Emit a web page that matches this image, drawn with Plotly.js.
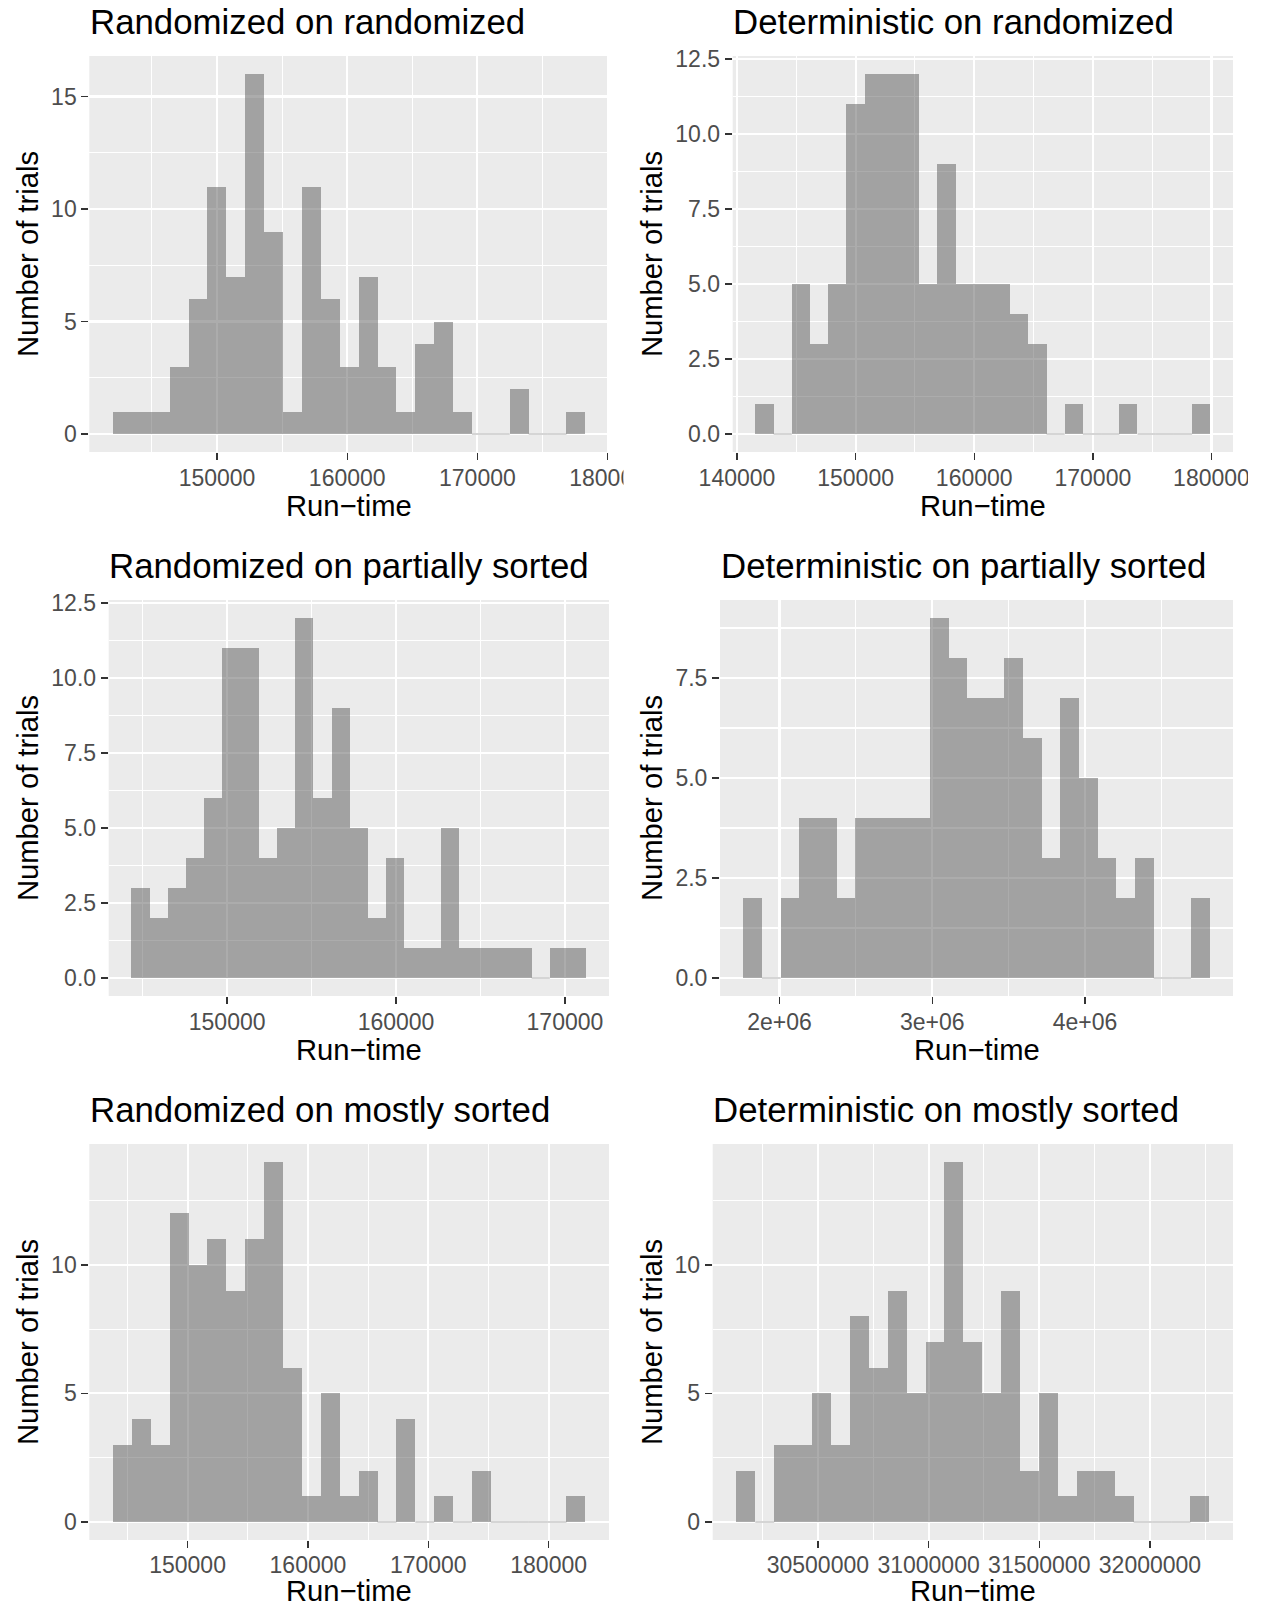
<!DOCTYPE html>
<html>
<head>
<meta charset="utf-8">
<script src="https://cdn.plot.ly/plotly-3.0.1.min.js"></script>
<style>
html, body { margin: 0; padding: 0; background: #ffffff; }
#chart { width: 1262px; height: 1608px; }
</style>
</head>
<body>
<div id="chart"></div>
<script>
// ---------------- DATA ----------------
const panelTitles = [
  "Randomized on randomized",
  "Deterministic on randomized",
  "Randomized on partially sorted",
  "Deterministic on partially sorted",
  "Randomized on mostly sorted",
  "Deterministic on mostly sorted"
];
const xAxisTitle = "Run\u2212time";
const yAxisTitle = "Number of trials";

// histogram bins: left edge of first bin, bin width, counts per bin (25 bins)
const randRandStart = 142005, randRandWidth = 1451.5;
const randRandCounts = [1,1,1,3,6,11,7,16,9,1,11,6,3,7,3,1,4,5,1,0,0,2,0,0,1];

const detRandStart = 141558, detRandWidth = 1533.6;
const detRandCounts = [1,0,5,3,5,11,12,12,12,5,9,5,5,5,4,3,0,1,0,0,1,0,0,0,1];

const randPartStart = 144333, randPartWidth = 1077.2;
const randPartCounts = [3,2,3,4,6,11,11,4,5,12,6,9,5,2,4,1,1,5,1,1,1,1,0,1,1];

const detPartStart = 1763158, detPartWidth = 122105;
const detPartCounts = [2,0,2,4,4,2,4,4,4,4,9,8,7,7,8,6,3,7,5,3,2,3,0,0,2];

const randMostStart = 143798, randMostWidth = 1570.2;
const randMostCounts = [3,4,3,12,10,11,9,11,14,6,1,5,1,2,0,4,0,1,0,2,0,0,0,0,1];

const detMostStart = 30131790, detMostWidth = 85454;
const detMostCounts = [2,0,3,3,5,3,8,6,9,5,7,14,7,5,9,2,5,1,2,2,1,0,0,0,1];

// tick values / labels
const xTickVals = [
  [150000,160000,170000,180000],
  [140000,150000,160000,170000,180000],
  [150000,160000,170000],
  [2000000,3000000,4000000],
  [150000,160000,170000,180000],
  [30500000,31000000,31500000,32000000]
];
const xTickText = [
  ["150000","160000","170000","180000"],
  ["140000","150000","160000","170000","180000"],
  ["150000","160000","170000"],
  ["2e+06","3e+06","4e+06"],
  ["150000","160000","170000","180000"],
  ["30500000","31000000","31500000","32000000"]
];
const yTickVals = [
  [0,5,10,15],
  [0,2.5,5,7.5,10,12.5],
  [0,2.5,5,7.5,10,12.5],
  [0,2.5,5,7.5],
  [0,5,10],
  [0,5,10]
];
const yTickText = [
  ["0","5","10","15"],
  ["0.0","2.5","5.0","7.5","10.0","12.5"],
  ["0.0","2.5","5.0","7.5","10.0","12.5"],
  ["0.0","2.5","5.0","7.5"],
  ["0","5","10"],
  ["0","5","10"]
];

const binStarts = [randRandStart, detRandStart, randPartStart, detPartStart, randMostStart, detMostStart];
const binWidths = [randRandWidth, detRandWidth, randPartWidth, detPartWidth, randMostWidth, detMostWidth];
const binCounts = [randRandCounts, detRandCounts, randPartCounts, detPartCounts, randMostCounts, detMostCounts];

// ---------------- LAYOUT (pixels) ----------------
const W = 1262, H = 1608;
const boxes = [
  {l: 89.3,  r: 609,  t: 56,   b: 452},
  {l: 732.7, r: 1233, t: 56,   b: 452},
  {l: 108.7, r: 609,  t: 600,  b: 996},
  {l: 720,   r: 1233, t: 600,  b: 996},
  {l: 89.3,  r: 609,  t: 1144, b: 1540},
  {l: 712.7, r: 1233, t: 1144, b: 1540}
];
const FONT = '"Liberation Sans", Arial, Helvetica, sans-serif';
const TICK_SIZE = 23, AXTITLE_SIZE = 29.2, TITLE_SIZE = 34.8;
const BAR_FILL = 'rgba(89,89,89,0.5)';
const px = v => v / W;
const py = v => 1 - v / H;

function minorVals(range, majors) {
  const step = majors[1] - majors[0];
  const half = step / 2;
  const out = [];
  let v = majors[0] - Math.ceil((majors[0] - range[0]) / half) * half;
  for (; v <= range[1]; v += half) {
    if (v < range[0]) continue;
    const isMajor = majors.some(m => Math.abs(m - v) < half * 1e-6);
    if (!isMajor) out.push(v);
  }
  return out;
}

const traces = [];
const layout = {
  width: W, height: H,
  margin: {l: 0, r: 0, t: 0, b: 0, pad: 0},
  paper_bgcolor: '#ffffff',
  plot_bgcolor: '#EBEBEB',
  showlegend: false,
  bargap: 0,
  barmode: 'overlay',
  font: {family: FONT, color: '#000000'},
  annotations: [],
  shapes: []
};

for (let i = 0; i < 6; i++) {
  const n = i === 0 ? '' : String(i + 1);
  const start = binStarts[i], w = binWidths[i], counts = binCounts[i];
  const centers = counts.map((_, k) => start + w * (k + 0.5));
  const widths = counts.map(() => w);
  const nb = counts.length;
  const xr = [start - 0.05 * nb * w, start + nb * w + 0.05 * nb * w];
  const ymax = Math.max(...counts);
  const yr = [-0.05 * ymax, 1.05 * ymax];
  const box = boxes[i];
  const lastRow = i >= 4;

  traces.push({
    type: 'bar',
    x: centers, y: counts, width: widths,
    xaxis: 'x' + n, yaxis: 'y' + n,
    marker: {color: BAR_FILL, line: {width: 0}},
    hoverinfo: 'skip'
  });

  // empty bins are drawn by ggplot as zero-height rectangles (thin line at 0)
  const zx = [], zy = [];
  counts.forEach((c, k) => {
    if (c === 0) {
      zx.push(start + w * k, start + w * (k + 1), null);
      zy.push(0, 0, null);
    }
  });
  if (zx.length) {
    traces.push({
      type: 'scatter', mode: 'lines', x: zx, y: zy,
      xaxis: 'x' + n, yaxis: 'y' + n,
      line: {color: BAR_FILL, width: 1}, hoverinfo: 'skip', connectgaps: false
    });
  }

  const yMaj = yTickVals[i];
  const xMaj = xTickVals[i];
  layout['xaxis' + n] = {
    domain: [px(box.l), px(box.r)],
    anchor: 'y' + n,
    range: xr,
    tickmode: 'array', tickvals: xMaj, ticktext: xTickText[i],
    ticks: 'outside', ticklen: 7, tickwidth: 1.4, tickcolor: '#333333',
    ticklabelstandoff: lastRow ? -3 : -2,
    tickfont: {family: FONT, size: TICK_SIZE, color: '#4D4D4D'},
    showgrid: true, gridcolor: '#ffffff', gridwidth: 2.1,
    minor: {tickmode: 'array', tickvals: minorVals(xr, xMaj), showgrid: true, gridcolor: '#ffffff', gridwidth: 1.1, ticks: ''},
    zeroline: false, showline: false, fixedrange: true
  };
  layout['yaxis' + n] = {
    domain: [py(box.b), py(box.t)],
    anchor: 'x' + n,
    range: yr,
    tickmode: 'array', tickvals: yMaj, ticktext: yTickText[i],
    ticks: 'outside', ticklen: 7, tickwidth: 1.4, tickcolor: '#333333',
    tickfont: {family: FONT, size: TICK_SIZE, color: '#4D4D4D'},
    showgrid: true, gridcolor: '#ffffff', gridwidth: 2.1,
    minor: {tickmode: 'array', tickvals: minorVals(yr, yMaj), showgrid: true, gridcolor: '#ffffff', gridwidth: 1.1, ticks: ''},
    zeroline: false, showline: false, fixedrange: true
  };

  // panel title (left aligned to panel)
  layout.annotations.push({
    text: panelTitles[i], xref: 'paper', yref: 'paper',
    x: px(box.l - 1.5), y: py(box.t - 34.3),
    xanchor: 'left', yanchor: 'middle', showarrow: false,
    font: {family: FONT, size: TITLE_SIZE, color: '#000000'}
  });
  // x axis title
  layout.annotations.push({
    text: xAxisTitle, xref: 'paper', yref: 'paper',
    x: px((box.l + box.r) / 2), y: py(box.b + (lastRow ? 50.5 : 54)),
    xanchor: 'center', yanchor: 'middle', showarrow: false, borderpad: 0,
    font: {family: FONT, size: AXTITLE_SIZE, color: '#000000'}
  });
  // y axis title
  const colLeft = (i % 2 === 0) ? 0 : 624;
  layout.annotations.push({
    text: yAxisTitle, xref: 'paper', yref: 'paper',
    x: px(colLeft + 28), y: py((box.t + box.b) / 2),
    xanchor: 'center', yanchor: 'middle', showarrow: false, textangle: -90,
    font: {family: FONT, size: AXTITLE_SIZE, color: '#000000'}
  });
}

// clip overflowing tick labels at the grid cell boundaries (as in the original)
layout.shapes.push({type: 'rect', xref: 'paper', yref: 'paper', layer: 'above',
  x0: px(623.5), x1: px(660), y0: py(490), y1: py(459), fillcolor: '#ffffff', line: {width: 0}});
layout.shapes.push({type: 'rect', xref: 'paper', yref: 'paper', layer: 'above',
  x0: px(1248), x1: 1, y0: py(490), y1: py(459), fillcolor: '#ffffff', line: {width: 0}});

Plotly.newPlot('chart', traces, layout, {staticPlot: true, displayModeBar: false});
</script>
</body>
</html>
